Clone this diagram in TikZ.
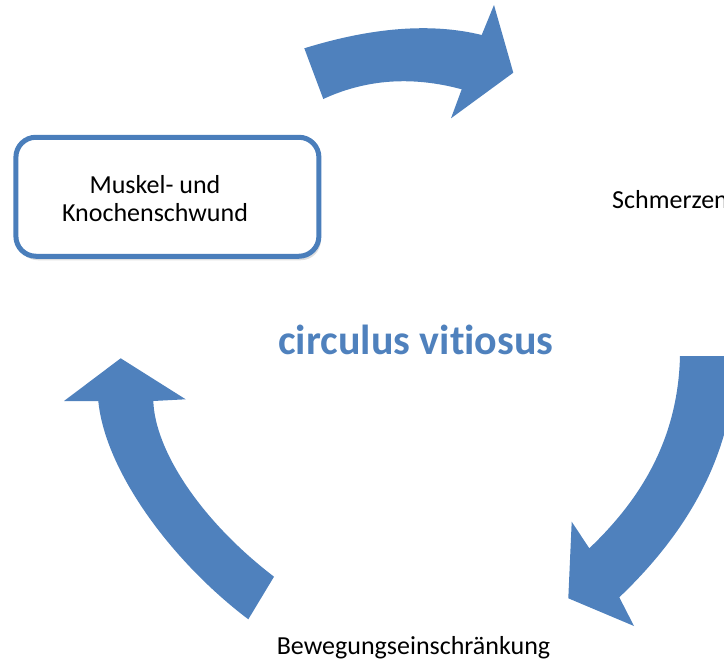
\documentclass[tikz,border=0pt]{standalone}
\usepackage{fontspec}
\setmainfont{Carlito}[RawFeature=-liga]
\usetikzlibrary{shadows}
\definecolor{accent}{RGB}{79,129,189}
\definecolor{boxline}{RGB}{74,126,187}
\begin{document}
\begin{tikzpicture}[x=1pt,y=-1pt,
  bigarrow/.style={fill=accent, draw=none},
  lbl/.style={font=\fontsize{26}{28}\selectfont, text=black, inner sep=0pt, align=center},
  title/.style={font=\fontsize{42}{46}\selectfont\bfseries, text=accent, inner sep=0pt},
  roundbox/.style={draw=boxline, line width=5pt, fill=white, rounded corners=20pt,
    minimum width=303pt, minimum height=119pt, inner sep=0pt,
    drop shadow={opacity=0.25, shadow xshift=2pt, shadow yshift=-4pt}}]
\useasboundingbox (0,0) rectangle (724,664);
\clip (0,0) rectangle (724,664);
% top arrow
\fill[bigarrow] (304.3,48.3) .. controls (372.8,27.1) and (431.9,22.7) .. (481.7,35)
  -- (494,5) -- (513.3,72.7) -- (451,118.3) -- (461.7,89.3)
  .. controls (412.2,75.9) and (366.1,79.2) .. (323.3,99) -- cycle;
% right arrow
\fill[bigarrow] (680,356) .. controls (678,440) and (640,500) .. (589.3,548.3)
  -- (571.7,521.7) -- (568.3,598.3) -- (634,626) -- (619.3,597.3)
  .. controls (690,530) and (735,450) .. (735,356) -- cycle;
% left arrow
\fill[bigarrow] (98.3,401) -- (64,401) -- (120.7,358.3) -- (185.7,399.3) -- (153.3,401)
  .. controls (155,450) and (200,520) .. (274,576.7) -- (248.3,619.3)
  .. controls (170,560) and (105,470) .. (98.3,401) -- cycle;
% box
\node[roundbox] (box) at (167.4,196.75) {};
\node[lbl] (boxtext) at (155,199) {Muskel- und\\Knochenschwund};
\node[lbl, anchor=west] (pain) at (612,200) {Schmerzen};
\node[lbl] (move) at (413.5,648) {Bewegungseinschränkung};
\node[title] (circ) at (416,340) {circulus vitiosus};
\end{tikzpicture}
\end{document}
